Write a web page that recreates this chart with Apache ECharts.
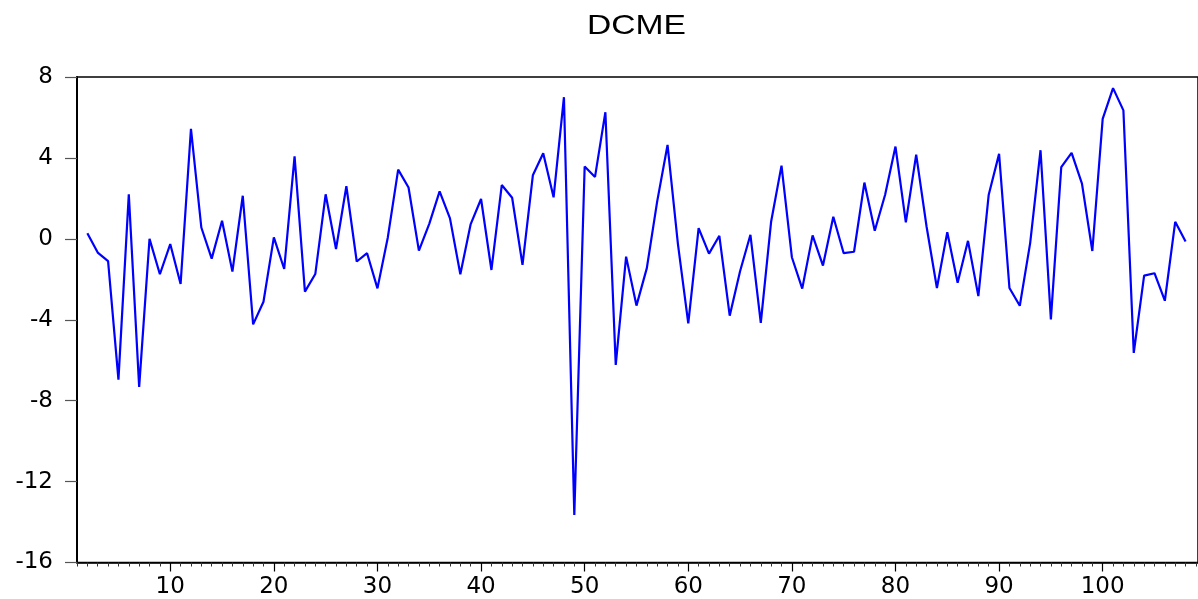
<!DOCTYPE html>
<html>
<head>
<meta charset="utf-8">
<title>DCME</title>
<script src="https://cdn.jsdelivr.net/npm/echarts@6/dist/echarts.min.js"></script>
<style>
  html, body { margin: 0; padding: 0; background: #fff; }
  #chart { width: 1198px; height: 599px; }
</style>
</head>
<body>
<div id="chart"></div>
<script>
// DCME series, observations 2..108 (observation 1 is undefined after differencing)
const firstObs = 2;
const dcmeValues = [
  0.28, -0.68, -1.10, -6.96, 2.20, -7.32, 0.00, -1.75, -0.26, -2.23,
  5.44, 0.56, -0.98, 0.89, -1.62, 2.13, -4.23, -3.11, 0.07, -1.49,
  4.08, -2.61, -1.74, 2.20, -0.50, 2.60, -1.12, -0.71, -2.45, 0.07,
  3.42, 2.54, -0.58, 0.74, 2.35, 1.01, -1.75, 0.73, 1.97, -1.54,
  2.66, 2.03, -1.29, 3.14, 4.23, 2.05, 7.00, -13.65, 3.58, 3.06,
  6.26, -6.23, -0.88, -3.30, -1.45, 1.85, 4.64, -0.25, -4.18, 0.53,
  -0.73, 0.15, -3.80, -1.60, 0.20, -4.15, 0.86, 3.62, -0.91, -2.46,
  0.17, -1.32, 1.09, -0.71, -0.64, 2.78, 0.40, 2.18, 4.56, 0.81,
  4.16, 0.61, -2.43, 0.33, -2.17, -0.10, -2.83, 2.18, 4.20, -2.43,
  -3.31, -0.21, 4.38, -3.98, 3.54, 4.25, 2.73, -0.60, 5.93, 7.45,
  6.35, -5.64, -1.82, -1.70, -3.06, 0.84, -0.13
];
const xMajorTicks = [10, 20, 30, 40, 50, 60, 70, 80, 90, 100];
const yTicks = [-16, -12, -8, -4, 0, 4, 8];

const points = dcmeValues.map((v, i) => [firstObs + i, v]);

const labelFont = { fontFamily: 'DejaVu Sans', fontSize: 23, color: '#000' };

const chart = echarts.init(document.getElementById('chart'), null, { renderer: 'canvas' });
chart.setOption({
  animation: false,
  backgroundColor: '#fff',
  graphic: [{
    type: 'text',
    x: 587,
    y: 12,
    scaleX: 1.2,
    style: {
      text: 'DCME',
      font: '28px "Liberation Sans", Arial, sans-serif',
      fill: '#000'
    }
  }],
  grid: {
    left: 77,
    right: -3.5,
    top: 77,
    bottom: 36.5,
    show: true,
    borderColor: '#000',
    borderWidth: 1.5,
    backgroundColor: 'transparent'
  },
  xAxis: [{
    type: 'value',
    min: 1,
    max: 109.2,
    interval: 1,
    position: 'bottom',
    axisLine: { show: true, onZero: false, lineStyle: { color: '#000', width: 1.5 } },
    axisTick: { show: true, length: 4, lineStyle: { color: '#333', width: 1 } },
    axisLabel: { show: false },
    splitLine: { show: false }
  }, {
    type: 'value',
    min: 1,
    max: 109.2,
    position: 'bottom',
    axisLine: { show: false, onZero: false },
    axisTick: { show: true, length: 9, customValues: xMajorTicks, lineStyle: { color: '#000', width: 1.2 } },
    axisLabel: Object.assign({ show: true, margin: 13, customValues: xMajorTicks }, labelFont),
    splitLine: { show: false }
  }],
  yAxis: {
    type: 'value',
    min: -16,
    max: 8,
    interval: 4,
    axisLine: { show: true, lineStyle: { color: '#000', width: 2 } },
    axisTick: { show: true, length: 12, lineStyle: { color: '#555', width: 1.2 } },
    axisLabel: Object.assign({ margin: 24, customValues: yTicks }, labelFont),
    splitLine: { show: false }
  },
  series: [{
    type: 'line',
    xAxisIndex: 0,
    data: points,
    showSymbol: false,
    symbol: 'none',
    lineStyle: { color: '#0000ff', width: 2.2 },
    clip: false
  }]
});
</script>
</body>
</html>
